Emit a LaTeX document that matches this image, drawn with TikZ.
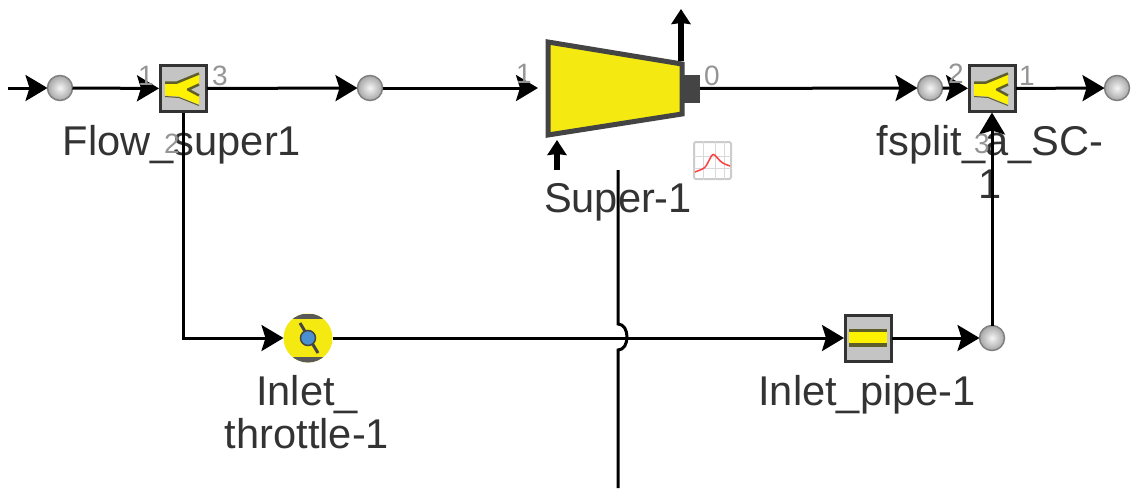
\documentclass[tikz,border=0pt]{standalone}
\usepackage{fontspec}
\setmainfont{Liberation Sans}
\usetikzlibrary{arrows.meta}
\definecolor{partyellow}{HTML}{F5E912}
\definecolor{partdark}{HTML}{444444}
\definecolor{boxgray}{HTML}{C4C4C4}
\definecolor{valveblue}{HTML}{4A8FD0}
\definecolor{banddark}{HTML}{5F5F2A}
\tikzset{
	wire/.style={line width=3pt, draw=black, -{Stealth[length=22pt,width=26pt,inset=4pt]}},
	plainwire/.style={line width=3pt, draw=black},
	updart/.style={line width=6pt, draw=black, -{Stealth[length=15pt,width=19pt,inset=1pt]}},
	junction/.style={circle, minimum size=25pt, inner sep=0pt, outer sep=0pt, draw=black!50, line width=1.5pt, inner color=white!92!gray, outer color=black!35},
	partbox/.style={rectangle, minimum size=46pt, inner sep=0pt, outer sep=1pt, draw=black!80, line width=3pt, fill=boxgray},
	partname/.style={anchor=base, font=\fontsize{41.6}{43}\selectfont, text=black!80, align=center, inner sep=0pt},
	portno/.style={anchor=base, font=\fontsize{28}{28}\selectfont, text=black!42, inner sep=0pt},
}
\begin{document}
\begin{tikzpicture}[x=1pt, y=-1pt]
	\useasboundingbox (0,0) rectangle (1140,488);
	%labels
	\node[partname] (name1) at (182,155) {Flow\_super1};
	\node[partname] (name2) at (618,212) {Super-1};
	\node[partname] (name3) at (990,198) {fsplit\_a\_SC-\\1};
	\node[partname] (name4) at (307,448) {Inlet\_\\throttle-1};
	\node[partname] (name5) at (867,405) {Inlet\_pipe-1};
	%nodes
	\coordinate (start) at (8,88);
	\node[junction] (j1) at (60,88) {};
	\node[partbox] (split1) at (183,88.5) {};
	\node[junction] (j2) at (370,88) {};
	\node[minimum width=146pt, minimum height=100pt, inner sep=0pt, outer sep=0pt] (super) at (617,88) {};
	\node[rectangle, fill=partdark, minimum width=18pt, minimum height=28pt, inner sep=0pt, outer sep=0pt] (shaft) at (691,88.5) {};
	\node[junction] (j3) at (930,88) {};
	\node[partbox] (split2) at (992,88.5) {};
	\node[junction] (j4) at (1117,88) {};
	\node[circle, fill=partyellow, minimum size=49pt, inner sep=0pt, outer sep=0pt] (throttle) at (308,338) {};
	\node[partbox] (pipe) at (868,338) {};
	\node[junction] (j5) at (992,338) {};
	\node[rectangle, rounded corners=2pt, minimum size=37pt, inner sep=0pt, draw=black!20, line width=2pt, fill=white] (chart) at (712.5,160.5) {};
	%turbine
	\draw[line width=5pt, draw=partdark, fill=partyellow, line join=miter] (548,42) -- (682,64) -- (682,114) -- (548,135) -- cycle;
	\coordinate (shaft top) at (681,61);
	\coordinate (shaft tip) at (681,9);
	\coordinate (speed base) at (557,170);
	\coordinate (speed tip) at (557,140);
	\draw[updart] (shaft top) -- (shaft tip);
	\draw[updart] (speed base) -- (speed tip);
	%chart icon
	\foreach \u in {-9,3,12}
	\draw[black!15, line width=1pt] ([xshift=\u pt]chart.north) -- ([xshift=\u pt]chart.south);
	\foreach \v in {-8,4}
	\draw[black!15, line width=1pt] ([yshift=\v pt]chart.west) -- ([yshift=\v pt]chart.east);
	\draw[red!75!white, line width=1.5pt, rounded corners=3pt] (695,172) -- (705,168) -- (713,153) -- (722,163) -- (730,166);
	%valve
	\begin{scope}
		\clip (throttle.center) circle (24.5);
		\fill[black!65] (284,314) rectangle (333,319);
		\fill[black!65] (284,357) rectangle (333,363);
	\end{scope}
	\draw[partdark, line width=3pt] (300,323) -- (318,353);
	\fill[valveblue, draw=partdark, line width=1.5pt] (throttle.center) circle (7.5);
	%inner symbols
	\foreach \n in {split1,split2}{
	\fill[shift={(\n.center)}, yellow]
	(-18,-5) -- (-6,-5) -- (16,-14) -- (16,-5) -- (5,1) -- (16,8) -- (16,16) -- (-4,8) -- (-18,7) -- cycle;
	\draw[shift={(\n.center)}, banddark, line width=2.5pt, line join=round]
	(-18,-6) -- (-6,-6) -- (16,-15) (16,-4) -- (5,1) -- (16,7);
	\draw[shift={(\n.center)}, banddark, line width=1pt]
	(-18,8) -- (-4,9) -- (16,17);
	}
	\fill[banddark] ([xshift=-19pt,yshift=9pt]pipe.center) rectangle ([xshift=19pt,yshift=-9pt]pipe.center);
	\fill[yellow] ([xshift=-19pt,yshift=6pt]pipe.center) rectangle ([xshift=19pt,yshift=-5pt]pipe.center);
	%connectors
	\draw[wire] (start) -- (j1);
	\draw[wire] (j1) -- (split1);
	\draw[wire] (split1) -- (j2);
	\draw[wire, shorten >=6pt] (j2) -- (super.west |- j2);
	\draw[wire] (shaft) -- (j3);
	\draw[wire] (j3) -- (split2);
	\draw[wire] (split2) -- (j4);
	\draw[wire] (split1.south) |- (throttle);
	\draw[wire] (throttle) -- (pipe);
	\draw[wire] (pipe) -- (j5);
	\draw[wire] (j5) -- (split2);
	%crossing line with hop
	\coordinate (line top) at (618,170);
	\coordinate (hop in) at (618,324);
	\coordinate (hop out) at (618,350);
	\coordinate (line end) at (618,488);
	\draw[plainwire] (line top) -- (hop in) .. controls (630,324) and (630,350) .. (hop out) -- (line end);
	%port numbers
	\node[portno] (p1) at (146,85) {1};
	\node[portno] (p2) at (220,85) {3};
	\node[portno] (p3) at (172,153) {2};
	\node[portno] (p4) at (524,83) {1};
	\node[portno] (p5) at (712,85) {0};
	\node[portno] (p6) at (956,83) {2};
	\node[portno] (p7) at (1027,85) {1};
	\node[portno] (p8) at (982,153) {3};
\end{tikzpicture}
\end{document}
